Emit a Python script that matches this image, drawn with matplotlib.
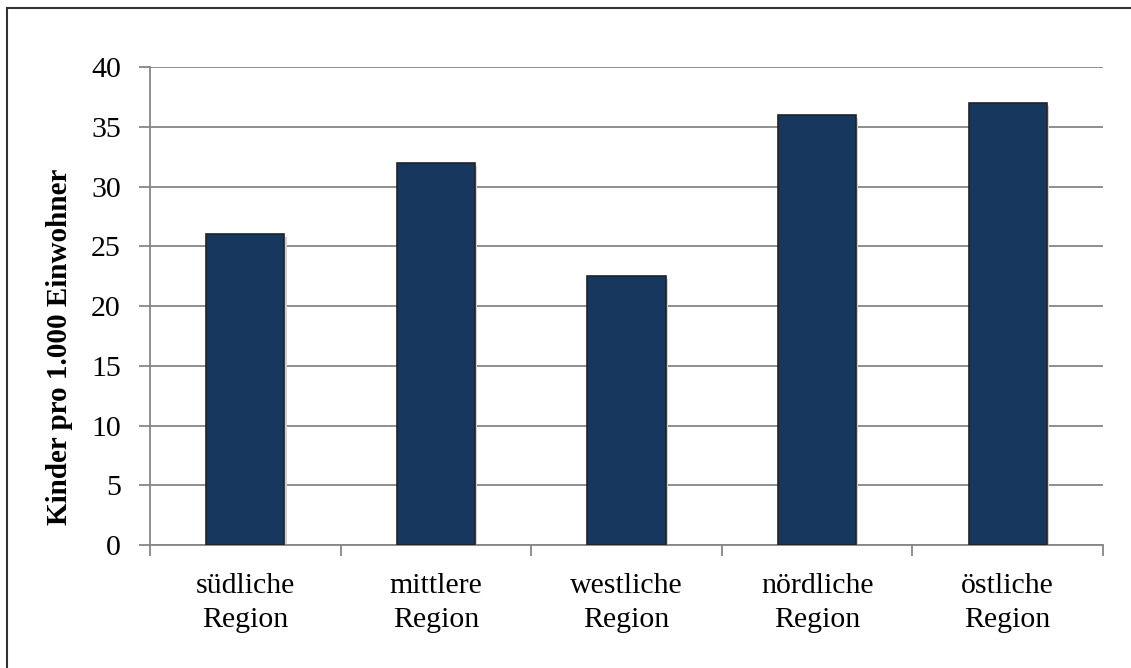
import matplotlib.pyplot as plt
from matplotlib.lines import Line2D

regionen = ["südliche\nRegion", "mittlere\nRegion", "westliche\nRegion",
            "nördliche\nRegion", "östliche\nRegion"]
kinder = [26, 32, 22.5, 36, 37]
yticks = [0, 5, 10, 15, 20, 25, 30, 35, 40]

plt.rcParams["font.family"] = ["Liberation Serif", "DejaVu Serif"]
grau = "#868686"

fig = plt.figure(figsize=(11.31, 6.68), dpi=100)
ax = fig.add_axes([0.1326, 0.1841, 0.8426, 0.7156])

x = list(range(len(regionen)))
# leichter Schatten hinter den Balken
ax.bar([i + 0.012 for i in x], kinder, width=0.41, color="#d0d0d0",
       zorder=2, linewidth=0, bottom=-0.25)
ax.bar(x, kinder, width=0.41, color="#17375e", edgecolor="#222222",
       linewidth=1.2, zorder=3)

ax.set_xlim(-0.5, len(regionen) - 0.5)
ax.set_ylim(0, 40)
ax.set_yticks(yticks)
ax.set_yticklabels([str(v) for v in yticks], fontsize=21.5)
ax.yaxis.grid(True, color=grau, linewidth=1.3)
ax.set_axisbelow(True)

# Kategorienbeschriftung mittig, Teilstriche zwischen den Kategorien
ax.set_xticks(x)
ax.set_xticklabels(regionen, fontsize=21.5, linespacing=1.38)
ax.tick_params(axis="x", length=0, pad=20.5)
ax.set_xticks([i - 0.5 for i in range(len(regionen) + 1)], minor=True)
ax.tick_params(axis="x", which="minor", length=8, width=1.3, color=grau)
ax.tick_params(axis="y", length=8, width=1.3, color=grau, pad=13)

for s in ["top", "right"]:
    ax.spines[s].set_visible(False)
for s in ["left", "bottom"]:
    ax.spines[s].set_color(grau)
    ax.spines[s].set_linewidth(1.3)

ax.set_ylabel("Kinder pro 1.000 Einwohner", fontsize=21, fontweight="bold")
ax.yaxis.set_label_coords(-0.081, 0.414)

# Rahmen oben und links
fig.add_artist(Line2D([0.0066, 0.0066], [0, 0.988], transform=fig.transFigure,
                      color="#333333", linewidth=1.5))
fig.add_artist(Line2D([0.0066, 1], [0.988, 0.988], transform=fig.transFigure,
                      color="#333333", linewidth=1.5))

fig.savefig("out.png", dpi=100)
plt.close("all")
